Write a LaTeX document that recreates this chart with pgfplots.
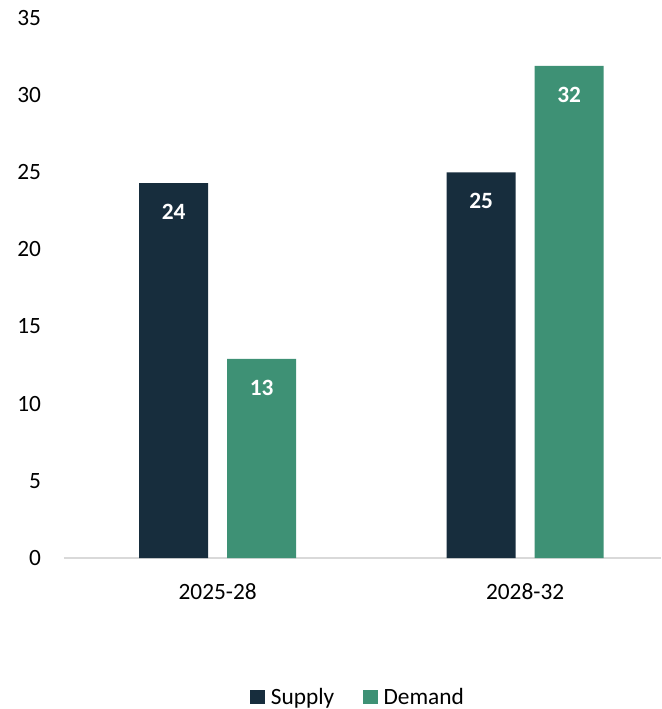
\documentclass[border=0pt]{standalone}
\usepackage{pgfplots}
\pgfplotsset{compat=1.18}
\usepackage{fontspec}
\setmainfont{Carlito}
\definecolor{supply}{HTML}{172D3D}
\definecolor{demand}{HTML}{3E9175}
\definecolor{axisgray}{HTML}{D9D9D9}
\begin{document}
\begin{tikzpicture}[font=\fontsize{17.5}{21}\selectfont]
\begin{axis}[
  at={(0,0)}, anchor=south west,
  scale only axis, width=447.75pt, height=405pt,
  xmin=-0.5, xmax=1.442, ymin=0, ymax=35,
  axis x line*=bottom, axis y line*=left,
  y axis line style={draw=none},
  x axis line style={draw=axisgray, line width=1.1pt, -},
  ytick={0,5,...,35},
  xtick={0,1}, xticklabels={2025-28,2028-32},
  major tick length=0pt, tick style={draw=none},
  yticklabel style={anchor=east, inner sep=0pt, xshift=-17pt},
  xticklabel style={anchor=north, inner sep=0pt, yshift=-18.75pt},
  /pgf/number format/assume math mode=true,
  ybar, bar width=51.75pt,
  nodes near coords={\pgfmathprintnumber[fixed,precision=0]{\pgfplotspointmeta}},
  every node near coord/.append style={anchor=center, yshift=-21.75pt, text=white, font=\fontsize{17.5}{21}\selectfont\bfseries},
  legend style={at={(0.4925,-0.2574)}, anchor=center, draw=none, legend columns=2,
    /tikz/every odd column/.append style={column sep=3pt},
    /tikz/every even column/.append style={column sep=20pt},
    nodes={inner sep=1.5pt}},
  legend image code/.code={\fill[#1] (0pt,-5.5pt) rectangle (11pt,5.5pt);},
]
\addplot[fill=supply, draw=none, bar shift=-33pt] coordinates {(0,24.3) (1,25.0)};
\addplot[fill=demand, draw=none, bar shift=33pt] coordinates {(0,12.9) (1,31.9)};
\legend{Supply, Demand}
\end{axis}
\pgfresetboundingbox
\useasboundingbox (-48pt,-113.25pt) rectangle (447.75pt,418.5pt);
\end{tikzpicture}
\end{document}
